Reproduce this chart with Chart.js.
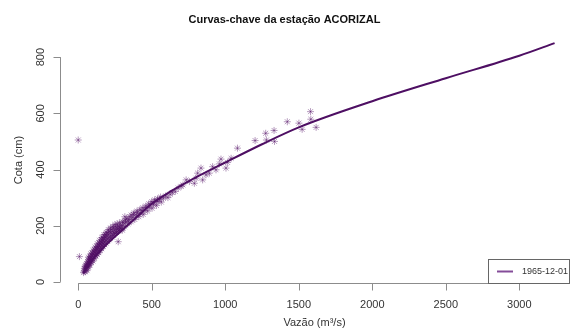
<!DOCTYPE html>
<html>
<head>
<meta charset="utf-8">
<script src="https://cdn.jsdelivr.net/npm/chart.js@4.4.0/dist/chart.umd.min.js"></script>
<style>
  html, body { margin: 0; padding: 0; background: #fff; }
  #wrap { width: 577px; height: 331px; }
</style>
</head>
<body>
<div id="wrap"><canvas id="grafico" width="577" height="331"></canvas></div>
<script>
// Curva-chave ajustada (vazão m³/s, cota cm)
const vazaoCurva = [35, 50, 75, 100, 150, 200, 300, 400, 500, 625, 750, 1000, 1250, 1500, 2000, 2500, 3000, 3240];
const cotaCurva  = [30, 45, 65, 82, 110, 137, 185, 232, 278, 321, 358, 425, 490, 550, 643, 725, 805, 850];

// Medições observadas
const vazaoObs = [
  36, 40, 42, 45, 46, 48, 50, 52, 54, 56, 58, 60, 62, 64, 66, 68, 70, 72, 74, 76,
  78, 80, 82, 85, 87, 90, 92, 94, 97, 100, 102, 105, 108, 110, 113, 116, 118, 121, 124, 126,
  129, 132, 134, 137, 140, 142, 145, 148, 150, 153, 156, 158, 161, 164, 166, 169, 172, 175, 178, 181,
  184, 187, 190, 194, 198, 202, 206, 210, 215, 220, 225, 230, 235, 240, 245, 250, 255, 260, 265, 270,
  272, 276, 282, 288, 295, 300, 308, 315, 317, 322, 330, 338, 345, 352, 360, 368, 376, 385, 394, 402,
  412, 422, 432, 442, 452, 462, 472, 482, 492, 502, 512, 522, 532, 542, 552, 565, 580, 595, 610, 625,
  640, 660, 680, 700, 712, 734, 756, 790, 801, 812, 835, 846, 869, 892, 914, 937, 960, 971, 1005, 1016,
  1040, 1083, 1203, 1275, 1280, 1332, 1335, 1422, 1501, 1523, 1580, 1582, 1618, 0, 8,
  60, 70, 80, 90, 100, 110, 120, 130, 140, 150, 160, 170, 180, 190, 200, 210, 220, 230, 240, 250,
  260, 270, 280, 290, 300, 70, 85, 100, 115, 130, 145, 160, 175, 190, 205, 220, 235, 250, 265, 280,
  300, 320, 340, 360, 380, 400, 420, 440, 460, 480, 500, 520, 540, 560
];
const cotaObs = [
  33, 38, 48, 42, 55, 36, 50, 60, 45, 56, 66, 50, 62, 72, 55, 68, 78, 60, 74, 84,
  65, 80, 90, 70, 86, 96, 76, 92, 102, 82, 98, 108, 88, 104, 114, 94, 110, 120, 100, 116,
  126, 106, 122, 132, 112, 128, 138, 118, 134, 144, 124, 140, 150, 130, 146, 156, 136, 152, 162, 142,
  158, 168, 148, 164, 174, 154, 170, 180, 160, 176, 186, 166, 180, 192, 172, 186, 196, 176, 190, 198,
  143, 182, 194, 202, 188, 200, 210, 196, 232, 212, 226, 206, 222, 232, 214, 228, 240, 222, 236, 246,
  232, 244, 254, 240, 254, 264, 252, 266, 276, 262, 276, 286, 272, 286, 294, 284, 298, 306, 300, 312,
  318, 322, 334, 340, 345, 363, 357, 351, 369, 387, 405, 363, 381, 387, 410, 399, 420, 437, 405, 425,
  440, 476, 503, 529, 505, 539, 500, 570, 565, 543, 606, 579, 550, 505, 90,
  40, 52, 60, 70, 74, 84, 92, 98, 104, 112, 118, 126, 132, 138, 144, 150, 156, 160, 166, 172,
  176, 180, 186, 190, 184, 88, 100, 112, 124, 136, 148, 158, 168, 176, 186, 192, 198, 204, 206, 210,
  214, 220, 216, 238, 246, 252, 258, 264, 270, 278, 286, 292, 296, 302
];

const xTicks = [0, 500, 1000, 1500, 2000, 2500, 3000];
const yTicks = [0, 200, 400, 600, 800];
const rotuloCurva = '1965-12-01';

const corPontos = 'rgba(80, 15, 100, 0.42)';
const corCurva = '#4e0f63';
const corEixo = '#8c8c8c';
const fonte = '"Liberation Sans", Arial, sans-serif';

// Eixos no estilo do R: linha só entre o primeiro e o último tick, rótulos do y girados
const eixosR = {
  id: 'eixosR',
  afterDraw(chart) {
    const { ctx, chartArea, scales: { x, y } } = chart;
    ctx.save();
    ctx.strokeStyle = corEixo;
    ctx.lineWidth = 1;
    const yb = Math.round(chartArea.bottom) + 0.5;
    const xl = Math.round(chartArea.left) + 0.5;

    ctx.beginPath();
    ctx.moveTo(x.getPixelForValue(xTicks[0]), yb);
    ctx.lineTo(x.getPixelForValue(xTicks[xTicks.length - 1]), yb);
    xTicks.forEach(v => {
      const px = Math.round(x.getPixelForValue(v)) + 0.5;
      ctx.moveTo(px, yb);
      ctx.lineTo(px, yb + 7);
    });
    ctx.moveTo(xl, y.getPixelForValue(yTicks[0]));
    ctx.lineTo(xl, y.getPixelForValue(yTicks[yTicks.length - 1]));
    yTicks.forEach(v => {
      const py = Math.round(y.getPixelForValue(v)) + 0.5;
      ctx.moveTo(xl, py);
      ctx.lineTo(xl - 7, py);
    });
    ctx.stroke();

    ctx.fillStyle = '#333';
    ctx.font = '11px ' + fonte;
    ctx.textAlign = 'center';
    ctx.textBaseline = 'middle';
    yTicks.forEach(v => {
      ctx.save();
      ctx.translate(41, y.getPixelForValue(v));
      ctx.rotate(-Math.PI / 2);
      ctx.fillText(String(v), 0, 0);
      ctx.restore();
    });

    // legenda no canto inferior direito
    const lx = 488, ly = 259, lw = 81, lh = 24;
    ctx.strokeStyle = '#666';
    ctx.strokeRect(lx + 0.5, ly + 0.5, lw, lh);
    ctx.strokeStyle = 'rgba(110, 45, 135, 0.85)';
    ctx.lineWidth = 2;
    ctx.beginPath();
    ctx.moveTo(497, ly + 12.5);
    ctx.lineTo(513, ly + 12.5);
    ctx.stroke();
    ctx.fillStyle = '#333';
    ctx.font = '9px ' + fonte;
    ctx.textAlign = 'left';
    ctx.fillText(rotuloCurva, 522, ly + 12.5);
    ctx.restore();
  }
};

const ctx = document.getElementById('grafico').getContext('2d');
new Chart(ctx, {
  type: 'scatter',
  data: {
    datasets: [
      {
        type: 'line',
        label: rotuloCurva,
        data: vazaoCurva.map((q, i) => ({ x: q, y: cotaCurva[i] })),
        borderColor: corCurva,
        borderWidth: 2,
        pointRadius: 0,
        fill: false,
        cubicInterpolationMode: 'monotone',
        order: 0
      },
      {
        label: 'Medições',
        data: vazaoObs.map((q, i) => ({ x: q, y: cotaObs[i] })),
        pointStyle: 'star',
        pointRadius: 3.5,
        borderWidth: 1,
        borderColor: corPontos,
        backgroundColor: corPontos,
        order: 1
      }
    ]
  },
  options: {
    responsive: false,
    animation: false,
    layout: { padding: { top: 0, right: 8, left: 0, bottom: 0 } },
    plugins: {
      legend: { display: false },
      tooltip: { enabled: false },
      title: {
        display: true,
        text: 'Curvas-chave da estação ACORIZAL',
        color: '#111',
        font: { family: fonte, size: 11, weight: 'bold' },
        padding: { top: 13, bottom: 11 }
      }
    },
    scales: {
      x: {
        type: 'linear',
        min: -124,
        max: 3338,
        afterFit: s => { s.height = 48; },
        afterBuildTicks: s => { s.ticks = xTicks.map(v => ({ value: v })); },
        grid: { display: false, drawTicks: false },
        border: { display: false },
        ticks: {
          color: '#333',
          padding: 15,
          maxRotation: 0,
          font: { family: fonte, size: 11 },
          callback: v => String(v)
        },
        title: {
          display: true,
          text: 'Vazão (m³/s)',
          color: '#333',
          font: { family: fonte, size: 11 },
          padding: { top: 0, bottom: 1 }
        }
      },
      y: {
        type: 'linear',
        min: -4,
        max: 871,
        afterFit: s => { s.width = 60; },
        afterBuildTicks: s => { s.ticks = yTicks.map(v => ({ value: v })); },
        grid: { display: false, drawTicks: false },
        border: { display: false },
        ticks: { display: false },
        title: {
          display: true,
          text: 'Cota (cm)',
          color: '#333',
          font: { family: fonte, size: 11 },
          padding: { top: 12, bottom: 0 }
        }
      }
    }
  },
  plugins: [eixosR]
});
</script>
</body>
</html>
